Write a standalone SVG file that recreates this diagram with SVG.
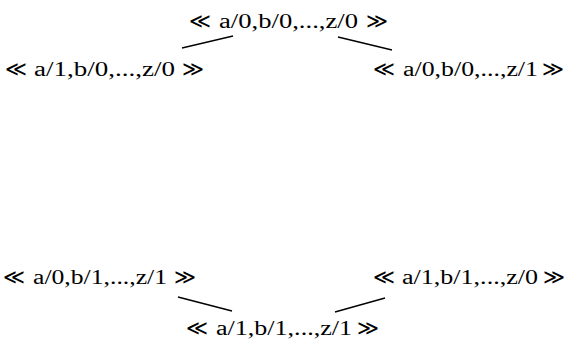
<svg xmlns="http://www.w3.org/2000/svg" width="565" height="341" viewBox="0 0 565 341">
<style>
text{font-family:"Liberation Serif","DejaVu Serif",serif;font-size:20px;fill:#000}
.s{font-family:"DejaVu Sans",sans-serif;font-size:21px}
.c line{stroke:#000;stroke-width:1.3}
</style>
<rect width="565" height="341" fill="#fff"/>
<g id="n000"><text class="s" x="189" y="28">≪</text><text x="219" y="28" textLength="139" lengthAdjust="spacingAndGlyphs">a/0,b/0,...,z/0</text><text class="s" x="366" y="28">≫</text></g>
<g id="n100"><text class="s" x="5" y="76">≪</text><text x="34" y="76" textLength="141" lengthAdjust="spacingAndGlyphs">a/1,b/0,...,z/0</text><text class="s" x="182" y="76">≫</text></g>
<g id="n001"><text class="s" x="373" y="76">≪</text><text x="403" y="76" textLength="135" lengthAdjust="spacingAndGlyphs">a/0,b/0,...,z/1</text><text class="s" x="542" y="76">≫</text></g>
<g id="n011"><text class="s" x="3" y="284">≪</text><text x="33" y="284" textLength="134" lengthAdjust="spacingAndGlyphs">a/0,b/1,...,z/1</text><text class="s" x="174" y="284">≫</text></g>
<g id="n110"><text class="s" x="373" y="284">≪</text><text x="402" y="284" textLength="136" lengthAdjust="spacingAndGlyphs">a/1,b/1,...,z/0</text><text class="s" x="543" y="284">≫</text></g>
<g id="n111"><text class="s" x="186" y="335">≪</text><text x="216" y="335" textLength="136" lengthAdjust="spacingAndGlyphs">a/1,b/1,...,z/1</text><text class="s" x="357" y="335">≫</text></g>
<g class="c" id="connectors">
<line x1="182" y1="48" x2="233" y2="36"/>
<line x1="338" y1="37" x2="392" y2="50"/>
<line x1="178" y1="297" x2="232" y2="311"/>
<line x1="335" y1="312" x2="385" y2="298"/>
</g>
</svg>
